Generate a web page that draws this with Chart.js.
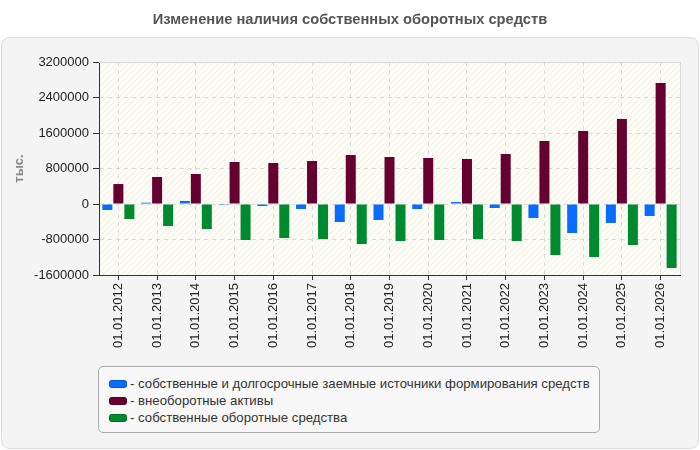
<!DOCTYPE html>
<html><head><meta charset="utf-8">
<script src="https://cdn.jsdelivr.net/npm/chart.js@4/dist/chart.umd.min.js"></script>
<style>
html,body{margin:0;padding:0;background:#fff;}
#wrap{position:relative;width:700px;height:450px;overflow:hidden;}
#c{position:absolute;left:0;top:0;}
#title{position:absolute;left:0;top:11px;width:700px;text-align:center;font:bold 14.7px "Liberation Sans",Arial,sans-serif;color:#555;}
#legend{position:absolute;left:98px;top:366px;width:502px;height:67px;border:1px solid #aaa;border-radius:5px;background:#f7f7f7;box-sizing:border-box;font:13.2px "Liberation Sans",Arial,sans-serif;color:#333;}
.item{position:absolute;left:10px;height:17px;line-height:17px;white-space:nowrap;}
.sw{display:inline-block;width:18px;height:8px;border-radius:3px;vertical-align:middle;margin-right:3px;box-sizing:border-box;border:1px solid rgba(0,0,0,.2);position:relative;top:-1px;}
</style></head>
<body>
<div id="wrap">
<canvas id="c" width="700" height="450"></canvas>
<div id="title">Изменение наличия собственных оборотных средств</div>
<div id="legend"></div>
</div>
<script>
const chartTitle = 'Изменение наличия собственных оборотных средств';
const yAxisTitle = 'тыс.';
const categories = ['01.01.2012','01.01.2013','01.01.2014','01.01.2015','01.01.2016','01.01.2017','01.01.2018','01.01.2019','01.01.2020','01.01.2021','01.01.2022','01.01.2023','01.01.2024','01.01.2025','01.01.2026'];
const seriesNames = ['- собственные и долгосрочные заемные источники формирования средств','- внеоборотные активы','- собственные оборотные средства'];
const ownLongTermSources = [-135000, 30000, 68000, -20000, -45000, -113000, -406000, -360000, -113000, 45000, -90000, -315000, -654000, -428000, -270000];
const nonCurrentAssets = [450000, 608000, 676000, 946000, 924000, 969000, 1104000, 1059000, 1037000, 1014000, 1127000, 1420000, 1645000, 1915000, 2727000];
const ownWorkingCapital = [-338000, -496000, -563000, -811000, -766000, -789000, -901000, -834000, -811000, -789000, -834000, -1149000, -1194000, -924000, -1442000];
const seriesColors = ['#0a6cff', '#650030', '#008a30'];
const yMin = -1600000, yMax = 3200000, yStep = 800000;

const FONT = '"Liberation Sans", Arial, sans-serif';

document.getElementById('title').textContent = chartTitle;

// legend
const leg = document.getElementById('legend');
seriesNames.forEach((n, i) => {
  const d = document.createElement('div');
  d.className = 'item';
  d.style.top = (8 + i * 17) + 'px';
  d.innerHTML = '<span class="sw" style="background:' + seriesColors[i] + '"></span>' + n;
  leg.appendChild(d);
});

// hatch pattern
const pc = document.createElement('canvas');
pc.width = 6; pc.height = 6;
const pctx = pc.getContext('2d');
pctx.fillStyle = '#fcfcf5';
pctx.fillRect(0, 0, 6, 6);
pctx.strokeStyle = '#efefe8';
pctx.lineWidth = 1;
pctx.beginPath();
pctx.moveTo(0, 6); pctx.lineTo(6, 0);
pctx.moveTo(-1, 1); pctx.lineTo(1, -1);
pctx.moveTo(5, 7); pctx.lineTo(7, 5);
pctx.stroke();

function roundRect(ctx, x, y, w, h, r) {
  ctx.beginPath();
  ctx.moveTo(x + r, y);
  ctx.lineTo(x + w - r, y);
  ctx.quadraticCurveTo(x + w, y, x + w, y + r);
  ctx.lineTo(x + w, y + h - r);
  ctx.quadraticCurveTo(x + w, y + h, x + w - r, y + h);
  ctx.lineTo(x + r, y + h);
  ctx.quadraticCurveTo(x, y + h, x, y + h - r);
  ctx.lineTo(x, y + r);
  ctx.quadraticCurveTo(x, y, x + r, y);
  ctx.closePath();
}

const bgPlugin = {
  id: 'bg',
  beforeDraw(chart) {
    const ctx = chart.ctx;
    const a = chart.chartArea;
    ctx.save();
    ctx.fillStyle = '#ffffff';
    ctx.fillRect(0, 0, chart.width, chart.height);
    roundRect(ctx, 1.5, 37.5, 697, 411, 9);
    ctx.fillStyle = '#f4f4f4';
    ctx.fill();
    ctx.strokeStyle = '#dddddd';
    ctx.lineWidth = 1;
    ctx.stroke();
    ctx.fillStyle = ctx.createPattern(pc, 'repeat');
    ctx.fillRect(a.left, a.top, a.right - a.left, a.bottom - a.top);
    ctx.restore();
  },
  afterDraw(chart) {
    const ctx = chart.ctx;
    const a = chart.chartArea;
    ctx.save();
    ctx.strokeStyle = '#d8d8d8';
    ctx.lineWidth = 1;
    ctx.beginPath();
    ctx.moveTo(a.left, Math.round(a.top) + 0.5);
    ctx.lineTo(Math.round(a.right) + 0.5, Math.round(a.top) + 0.5);
    ctx.lineTo(Math.round(a.right) + 0.5, a.bottom);
    ctx.stroke();
    ctx.restore();
  }
};

new Chart(document.getElementById('c'), {
  type: 'bar',
  data: {
    labels: categories,
    datasets: [
      { label: seriesNames[0], data: ownLongTermSources, backgroundColor: seriesColors[0] },
      { label: seriesNames[1], data: nonCurrentAssets, backgroundColor: seriesColors[1] },
      { label: seriesNames[2], data: ownWorkingCapital, backgroundColor: seriesColors[2] }
    ]
  },
  plugins: [bgPlugin],
  options: {
    responsive: false,
    animation: false,
    events: [],
    categoryPercentage: 0.852,
    barPercentage: 0.91,
    layout: { padding: { left: 0, right: 20, top: 62, bottom: 0 } },
    plugins: { legend: { display: false }, tooltip: { enabled: false }, title: { display: false } },
    scales: {
      x: {
        grid: { offset: false, color: '#dadada', tickColor: '#333', tickLength: 5, tickBorderDash: [] },
        border: { color: '#333', dash: [4, 4] },
        ticks: { maxRotation: 90, minRotation: 90, autoSkip: false, color: '#222', font: { size: 13, family: FONT }, padding: 3 },
        afterFit(s) { s.height = 175; }
      },
      y: {
        min: yMin, max: yMax,
        grid: { color: '#dadada', tickColor: '#333', tickLength: 6, tickBorderDash: [] },
        border: { color: '#333', dash: [4, 4] },
        ticks: { stepSize: yStep, color: '#222', font: { size: 13, family: FONT }, padding: 4, callback: v => String(v) },
        title: { display: true, text: yAxisTitle, color: '#888', font: { size: 13, weight: 'bold', family: FONT }, padding: { top: 12, bottom: 0 } },
        afterFit(s) { s.width = 99; }
      }
    }
  }
});
</script>
</body></html>
